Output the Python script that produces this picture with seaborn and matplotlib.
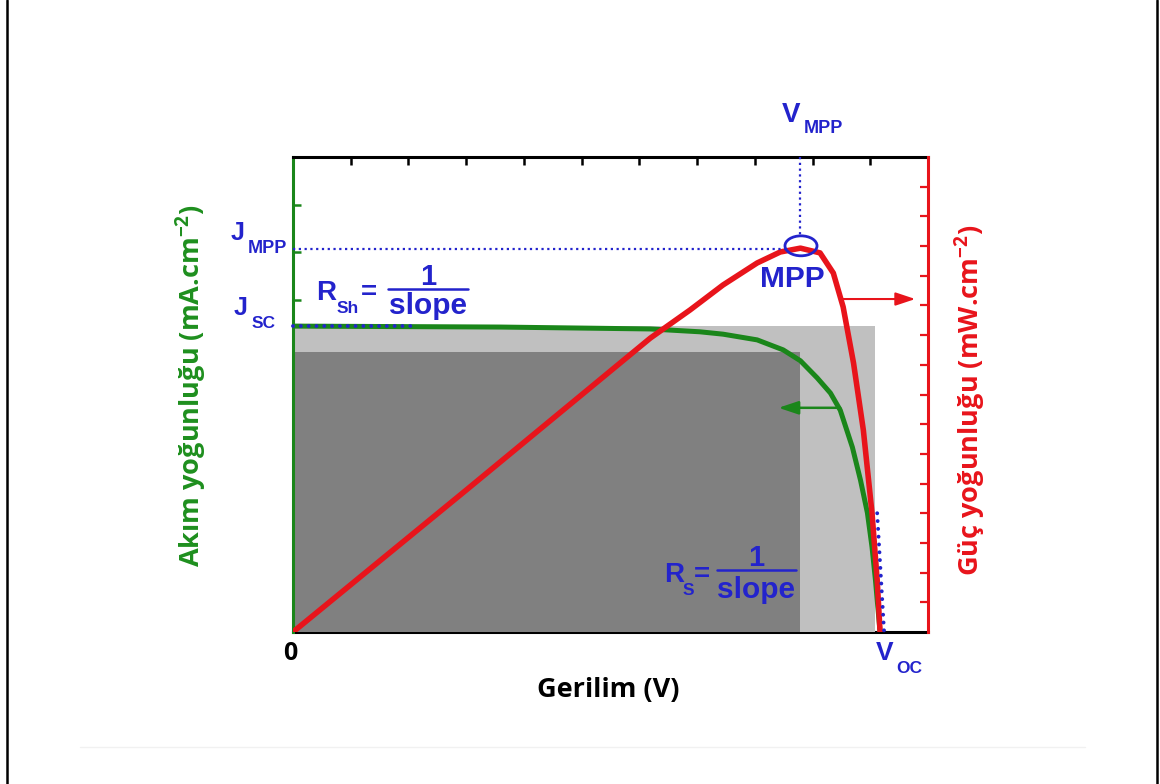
import matplotlib
matplotlib.use("Agg")
import matplotlib.pyplot as plt
import seaborn as sns
import pandas as pd
from matplotlib.patches import Rectangle, Ellipse
from matplotlib.lines import Line2D

# ---------------- data ----------------
voltage_jv = [0.0, 0.359, 0.619, 0.705, 0.745, 0.804, 0.849, 0.879, 0.908, 0.931,
              0.948, 0.969, 0.983, 0.995, 1.003, 1.009, 1.014, 1.017]
current_jv = [6.44, 6.42, 6.38, 6.32, 6.27, 6.15, 5.94, 5.71, 5.35, 5.03,
              4.67, 3.89, 3.20, 2.51, 1.79, 1.09, 0.40, 0.0]
voltage_p = [0.0, 0.30, 0.619, 0.688, 0.745, 0.804, 0.844, 0.879, 0.913, 0.936,
             0.953, 0.971, 0.988, 1.003, 1.012, 1.017]
power_p = [0.0, 4.78, 9.90, 10.85, 11.69, 12.43, 12.80, 12.93, 12.77, 12.09,
           10.95, 9.06, 6.80, 4.01, 1.75, 0.0]

v_mpp = 0.879
j_mpp_level = 8.06
jsc = 6.44
voc_box = 1.009
j_box_mpp = 5.89
jsc_dots_end = 0.208
rs_line_v = [1.012, 1.024]
rs_line_j = [2.5, 0.0]

x_top_ticks = [0.1, 0.2, 0.3, 0.4, 0.5, 0.6, 0.7, 0.8, 0.9, 1.0]
y_left_ticks = [7, 8, 9]
y_right_ticks = list(range(1, 16))

# ---------------- style ----------------
sns.set_style("white")
plt.rcParams["font.family"] = ["Open Sans", "DejaVu Sans"]
plt.rcParams["mathtext.fontset"] = "custom"
plt.rcParams["mathtext.rm"] = "Open Sans:bold"
plt.rcParams["mathtext.it"] = "Open Sans:bold"
plt.rcParams["mathtext.bf"] = "Open Sans:bold"

W, H = 1160, 784
BLUE = "#2323cc"
GREEN = "#1a861a"
RED = "#e8141b"
LGRAY = "#c0c0c0"
DGRAY = "#808080"

fig = plt.figure(figsize=(W / 100, H / 100), dpi=100)
ax = fig.add_axes([293 / W, 1 - 632 / H, 635 / W, 475 / H])
ax2 = ax.twinx()

ax.set_xlim(0, 1.1)
ax.set_ylim(0, 10)
ax2.set_ylim(0, 16)

# shaded rectangles
ax.add_patch(Rectangle((0, 0), voc_box, jsc, facecolor=LGRAY, edgecolor="none", zorder=1))
ax.add_patch(Rectangle((0, 0), v_mpp, j_box_mpp, facecolor=DGRAY, edgecolor="none", zorder=1.1))

# J-V curve (left axis)
df_jv = pd.DataFrame({"V": voltage_jv, "J": current_jv})
sns.lineplot(data=df_jv, x="V", y="J", ax=ax, color=GREEN, lw=3.6,
             estimator=None, sort=False, zorder=3)

# Power curve (right axis)
df_p = pd.DataFrame({"V": voltage_p, "P": power_p})
sns.lineplot(data=df_p, x="V", y="P", ax=ax2, color=RED, lw=4.0,
             estimator=None, sort=False, zorder=3)
ax.set_xlabel("")
ax.set_ylabel("")
ax2.set_ylabel("")

T = ax.transData
# blue dotted guide lines (drawn on top axes, in left-axis units)
ax2.plot([0, 0.853], [j_mpp_level, j_mpp_level], transform=T, color=BLUE, lw=1.6,
         linestyle=(0, (1, 1.6)), zorder=5, clip_on=False)
ax2.plot([v_mpp, v_mpp], [10, 8.34], transform=T, color=BLUE, lw=1.6,
         linestyle=(0, (1, 1.6)), zorder=5, clip_on=False)
ax2.plot([0, jsc_dots_end], [jsc, jsc], transform=T, color=BLUE, lw=2.8,
         linestyle=(0, (0.01, 2.0)), dash_capstyle="round", zorder=5, clip_on=False)
ax2.plot(rs_line_v, rs_line_j, transform=T, color=BLUE, lw=2.8,
         linestyle=(0, (0.01, 2.0)), dash_capstyle="round", zorder=5, clip_on=False)
ax2.add_patch(Ellipse((0.880, 8.13), 0.0555, 0.42, transform=T, fill=False,
                      edgecolor=BLUE, lw=2.0, zorder=6))

# arrows
ax2.annotate("", xy=(0.841, 4.72), xytext=(0.948, 4.72), xycoords=T, textcoords=T,
             arrowprops=dict(arrowstyle="-|>,head_length=0.6,head_width=0.2",
                             color=GREEN, lw=1.8, mutation_scale=20,
                             shrinkA=0, shrinkB=0), zorder=6)
ax2.annotate("", xy=(1.078, 7.01), xytext=(0.953, 7.01), xycoords=T, textcoords=T,
             arrowprops=dict(arrowstyle="-|>,head_length=0.6,head_width=0.2",
                             color=RED, lw=1.5, mutation_scale=20,
                             shrinkA=0, shrinkB=0), zorder=6, annotation_clip=False)

# spines & ticks
for s in ax.spines.values():
    s.set_linewidth(2.2)
ax.spines["left"].set_color(GREEN)
ax.spines["top"].set_color("black")
ax.spines["bottom"].set_color("black")
ax.spines["bottom"].set_zorder(0.5)
ax.spines["right"].set_visible(False)
for k in ["left", "top", "bottom"]:
    ax2.spines[k].set_visible(False)
ax2.spines["right"].set_color(RED)
ax2.spines["right"].set_linewidth(2.2)

ax.set_xticks(x_top_ticks)
ax.tick_params(axis="x", which="both", bottom=False, top=True, direction="in",
               length=5.5, width=1.8, color="black", labelbottom=False, labeltop=False)
ax.set_yticks(y_left_ticks)
ax.tick_params(axis="y", left=True, right=False, direction="in", length=5.5,
               width=1.8, color=GREEN, labelleft=False)
ax2.set_yticks(y_right_ticks)
ax2.tick_params(axis="y", right=True, left=False, direction="in", length=5.5,
                width=1.6, color=RED, labelright=False)

# ---------------- texts ----------------
BF = dict(family="Liberation Sans", weight="bold", color=BLUE)


def ft(x, y, s, **kw):
    fig.text(x / W, 1 - y / H, s, **kw)


def bar(x0, x1, y):
    fig.add_artist(Line2D([x0 / W, x1 / W], [1 - y / H] * 2, color=BLUE, lw=1.8))


# J_MPP
ft(231, 240, "J", fontsize=18, ha="left", va="baseline", **BF)
ft(248, 253, "MPP", fontsize=13, ha="left", va="baseline", **BF)
# J_SC
ft(234, 315, "J", fontsize=18, ha="left", va="baseline", **BF)
ft(252, 328, "SC", fontsize=12.5, ha="left", va="baseline", **BF)
# V_MPP
ft(782, 122, "V", fontsize=20, ha="left", va="baseline", **BF)
ft(804, 133, "MPP", fontsize=13, ha="left", va="baseline", **BF)
# MPP label
ft(792, 287, "MPP", fontsize=21.5, ha="center", va="baseline", **BF)
# R_Sh = 1/slope
ft(316, 300, "R", fontsize=20, ha="left", va="baseline", **BF)
ft(337, 313, "Sh", fontsize=12.5, ha="left", va="baseline", **BF)
ft(361, 300, "=", fontsize=20, ha="left", va="baseline", **BF)
ft(428, 285, "1", fontsize=21, ha="center", va="baseline", **BF)
bar(388, 468, 289)
ft(428, 314, "slope", fontsize=21.5, ha="center", va="baseline", **BF)
# R_S = 1/slope
ft(664, 582, "R", fontsize=20, ha="left", va="baseline", **BF)
ft(683, 595, "S", fontsize=12.5, ha="left", va="baseline", **BF)
ft(694, 582, "=", fontsize=20, ha="left", va="baseline", **BF)
ft(756, 566, "1", fontsize=21, ha="center", va="baseline", **BF)
bar(717, 796, 570)
ft(756, 598, "slope", fontsize=21.5, ha="center", va="baseline", **BF)
# V_OC
ft(876, 660, "V", fontsize=19, ha="left", va="baseline", **BF)
ft(896, 673, "OC", fontsize=12.5, ha="left", va="baseline", **BF)

# axis texts
LF = dict(family=["Open Sans", "DejaVu Sans"], weight="bold")
ft(290, 660, "0", fontsize=18, ha="center", va="baseline", color="black", **LF)
ft(608, 697, "Gerilim (V)", fontsize=19.5, ha="center", va="baseline", color="black", **LF)
ft(191, 386, "Akım yoğunluğu (mA.cm$^{-2}$)", fontsize=19.5, rotation=90,
   ha="center", va="center", color="#1e8f1e", **LF)
ft(970, 400, "Güç yoğunluğu (mW.cm$^{-2}$)", fontsize=19.5, rotation=90,
   ha="center", va="center", color=RED, **LF)

# frame lines and faint separator
fig.add_artist(Line2D([7 / W, 7 / W], [0, 1], color="black", lw=1.8))
fig.add_artist(Line2D([1157 / W, 1157 / W], [0, 1], color="black", lw=1.8))
fig.add_artist(Line2D([80 / W, 1085 / W], [1 - 747 / H] * 2, color="#f1f1f1", lw=1))

fig.savefig("out.png", dpi=100, facecolor="white")
